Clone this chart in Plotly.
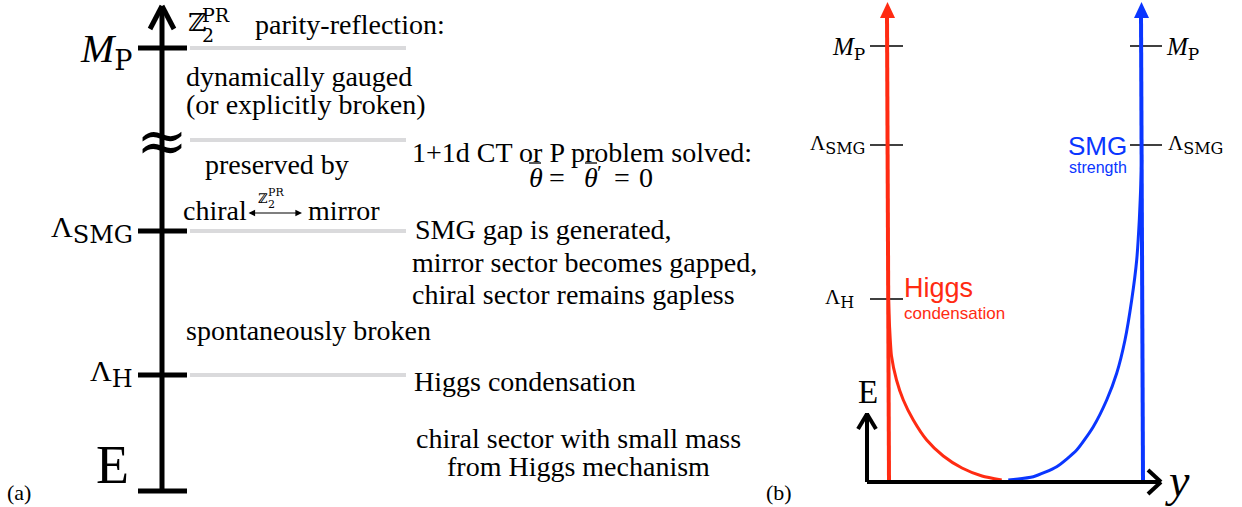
import plotly.graph_objects as go

# ---------------- data ----------------
# panel (a): energy levels (diagram y coordinate) and labels
levels_a_main = ["<i>M</i>", "Λ", "Λ"]
levels_a_sub = ["P", "SMG", "H"]
levels_a_y = [48, 231, 375]
gap_level_y = 140          # the "≈" break level
bottom_a_y = 491

# descriptions
desc_upper = ["dynamically gauged", "(or explicitly broken)"]
desc_mid = ["preserved by"]
desc_smg = ["SMG gap is generated,", "mirror sector becomes gapped,", "chiral sector remains gapless"]
desc_cp = ["1+1d CT or P problem solved:"]
desc_low = ["spontaneously broken"]
desc_h = ["Higgs condensation"]
desc_bottom = ["chiral sector with small mass", "from Higgs mechanism"]

# panel (b): levels
levels_b_main = ["<i>M</i>", "Λ", "Λ"]
levels_b_sub = ["P", "SMG", "H"]
levels_b_y = [46, 145, 299]

# panel (b): Higgs (red) and SMG (blue) curves
red_x = [888.5, 889.5, 891.5, 896.5, 903.3, 913.3, 926.7, 943.3, 962, 982, 1001.7]
red_y = [300, 325, 356, 380, 400, 420, 440, 456, 468, 476, 480]
blue_x = [1008.3, 1033.3, 1056.7, 1076.7, 1093.3, 1106.7, 1116.7, 1125, 1131.7, 1136.7, 1139.3, 1141, 1141.7]
blue_y = [480, 476.7, 466.7, 450, 426.7, 400, 373.3, 340, 300, 260, 220, 180, 160]

RED = "#ff2b12"
BLUE = "#0a36ff"
GRAY = "#dadadc"
SERIF = "Liberation Serif"
SANS = "Liberation Sans"
BODY = 28

fig = go.Figure()
shapes = []
ann = []

def line(x0, y0, x1, y1, color="black", w=2):
    shapes.append(dict(type="line", x0=x0, y0=y0, x1=x1, y1=y1, xref="x", yref="y",
                       line=dict(color=color, width=w)))

def text(x, y, s, size=BODY, xa="left", ya="middle", family=SERIF, color="black"):
    ann.append(dict(x=x, y=y, text=s, showarrow=False, xanchor=xa, yanchor=ya,
                    xref="x", yref="y", font=dict(family=family, size=size, color=color)))

def mlabel(main, sub, subsize):
    return (main + "<sub><span style='font-family:DejaVu Serif;font-size:%dpx'>%s</span></sub>"
            % (subsize, sub))

# ---------------- panel (a) ----------------
AX = 162
line(AX, bottom_a_y, AX, 7, w=5)
line(150, 29, AX, 6, w=5)
line(174, 29, AX, 6, w=5)
line(138, bottom_a_y, 187, bottom_a_y, w=5)
for yv in levels_a_y:
    line(138, yv, 187, yv, w=5)
for yv in levels_a_y + [gap_level_y]:
    line(190, yv, 406, yv, color=GRAY, w=4)

text(135, levels_a_y[0] + 3, mlabel(levels_a_main[0], levels_a_sub[0], 27), size=40, xa="right")
text(135, levels_a_y[1] - 2, mlabel(levels_a_main[1], levels_a_sub[1], 24), size=30, xa="right")
text(135, levels_a_y[2] - 2, mlabel(levels_a_main[2], levels_a_sub[2], 24), size=30, xa="right")
text(131, 465, "E", size=54, xa="right")
text(5, 492, "(a)", size=22)
text(AX, gap_level_y, "≈", size=62, xa="center", family="DejaVu Serif")

# Z2^PR parity-reflection
text(186, 22, "ℤ", size=25, family="DejaVu Serif")
text(200, 35, "2", size=19, family="DejaVu Serif")
text(200, 15, "PR", size=19, family="DejaVu Serif")
text(253, 24, "parity-reflection:", size=BODY)
text(184, 76, desc_upper[0])
text(184, 104, desc_upper[1])
text(203, 164, desc_mid[0])
text(181, 210, "chiral")
text(306, 210, "mirror")
ann.append(dict(x=302, y=213, ax=247, ay=213, axref="x", ayref="y", xref="x", yref="y",
                text="", showarrow=True, arrowhead=2, startarrowhead=2, arrowside="end+start",
                arrowwidth=1.1, arrowsize=1.2, arrowcolor="black"))
text(256, 198, "ℤ", size=13, family="DejaVu Serif")
text(266, 204, "2", size=11, family="DejaVu Serif")
text(266, 192, "PR", size=11, family="DejaVu Serif")

text(410, 152, desc_cp[0])
# theta-bar = theta-bar' = 0
text(527, 177, "<i>θ</i>")
text(557, 177, "=", xa="center")
text(582, 177, "<i>θ</i>")
text(595, 172, "′", size=22)
text(622, 177, "=", xa="center")
text(637, 177, "0")
line(529, 163, 541, 163, w=1.3)
line(585, 163, 597, 163, w=1.3)

text(413, 229, desc_smg[0])
text(410, 262, desc_smg[1])
text(410, 294, desc_smg[2])
text(184, 330, desc_low[0])
text(412, 381, desc_h[0])
text(578, 438, desc_bottom[0], xa="center")
text(578, 466, desc_bottom[1], xa="center")

# ---------------- panel (b) ----------------
line(867, 482, 1160, 482, w=4)
line(1148, 470, 1161, 482, w=4)
line(1148, 494, 1161, 482, w=4)
line(867, 482, 867, 413, w=4)
line(858, 429, 867, 414, w=4)
line(876, 429, 867, 414, w=4)
text(868, 392, "E", size=33, xa="center")
text(1163, 480, "<i>y</i>", size=46)
text(764, 492, "(b)", size=22)

for yv in levels_b_y:
    line(870, yv, 903, yv, w=1.5)
for yv in levels_b_y[:2]:
    line(1130, yv, 1162, yv, w=1.5)
text(867, levels_b_y[0] + 2, mlabel(levels_b_main[0], levels_b_sub[0], 17), size=25, xa="right")
text(867, levels_b_y[1] - 1, mlabel(levels_b_main[1], levels_b_sub[1], 16), size=21, xa="right")
text(856, levels_b_y[2] - 1, mlabel(levels_b_main[2], levels_b_sub[2], 16), size=21, xa="right")
text(1164, levels_b_y[0] + 2, mlabel(levels_b_main[0], levels_b_sub[0], 17), size=25)
text(1166, levels_b_y[1] - 1, mlabel(levels_b_main[1], levels_b_sub[1], 16), size=21)

line(889, 480, 887, 16, color=RED, w=4)
shapes.append(dict(type="path", path="M 880 18 L 895 18 L 887.5 2 Z", xref="x", yref="y",
                   fillcolor=RED, line=dict(color=RED, width=0)))
line(1143, 480, 1141, 16, color=BLUE, w=4)
shapes.append(dict(type="path", path="M 1134 18 L 1149 18 L 1141.5 2 Z", xref="x", yref="y",
                   fillcolor=BLUE, line=dict(color=BLUE, width=0)))

fig.add_trace(go.Scatter(x=red_x, y=red_y, mode="lines",
                         line=dict(color=RED, width=3, shape="spline", smoothing=0.6),
                         hoverinfo="skip", showlegend=False))
fig.add_trace(go.Scatter(x=blue_x, y=blue_y, mode="lines",
                         line=dict(color=BLUE, width=3, shape="spline", smoothing=0.6),
                         hoverinfo="skip", showlegend=False))

text(902, 288, "Higgs", size=27, family=SANS, color=RED)
text(902, 313, "condensation", size=17, family=SANS, color=RED)
text(1129, 146, "SMG", size=26, family=SANS, color=BLUE, xa="right")
text(1129, 167, "strength", size=16, family=SANS, color=BLUE, xa="right")

fig.update_layout(
    width=1242, height=507, margin=dict(l=0, r=0, t=0, b=0),
    paper_bgcolor="white", plot_bgcolor="white",
    xaxis=dict(range=[0, 1242], visible=False, fixedrange=True),
    yaxis=dict(range=[507, 0], visible=False, fixedrange=True),
    shapes=shapes, annotations=ann, showlegend=False,
)
fig.write_html("out.html", config={"displayModeBar": False},
               post_script="document.body.style.margin='0';document.body.style.overflow='hidden';")
